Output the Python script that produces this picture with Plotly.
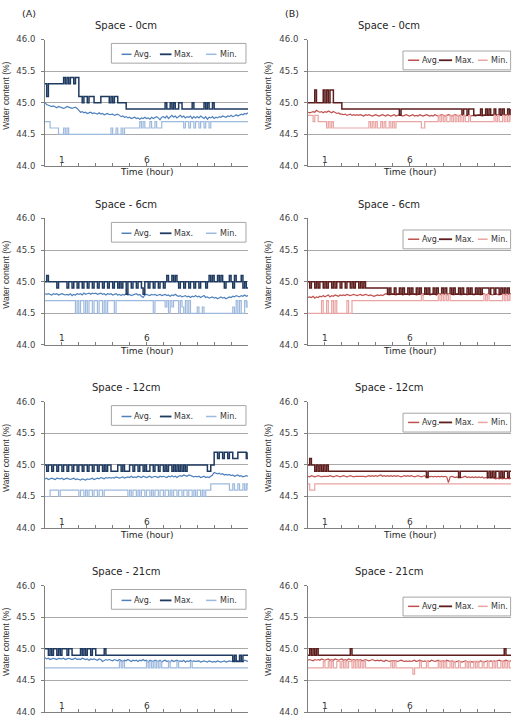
import plotly.graph_objects as go

# ---------------- data ----------------
TIME_H = [round(i * 0.1, 1) for i in range(121)]          # sample times, hours
X_TICK_VALS = list(range(13))
X_TICK_TEXT = ["", "1", "", "", "", "", "6", "", "", "", "", "", ""]
Y_TICK_VALS = [44.0, 44.5, 45.0, 45.5, 46.0]
PANEL_TITLES = ["Space - 0cm", "Space - 6cm", "Space - 12cm", "Space - 21cm"]
SERIES_NAMES = ["Avg.", "Max.", "Min."]
GROUP_LABELS = ["(A)", "(B)"]

# ---- Group A ----
A0_AVG = [
    45.00, 44.97, 44.96, 44.95, 44.94, 44.95, 44.93, 44.92, 44.94, 44.93,
    44.93, 44.91, 44.92, 44.94, 44.93, 44.92, 44.91, 44.92, 44.93, 44.91,
    44.87, 44.85, 44.86, 44.84, 44.85, 44.83, 44.84, 44.85, 44.83, 44.84,
    44.83, 44.82, 44.84, 44.82, 44.83, 44.81, 44.82, 44.83, 44.81, 44.82,
    44.82, 44.80, 44.81, 44.82, 44.80, 44.78, 44.79, 44.77, 44.78, 44.76,
    44.77, 44.75, 44.76, 44.77, 44.75, 44.76, 44.74, 44.76, 44.75, 44.77,
    44.75, 44.76, 44.74, 44.77, 44.75, 44.76, 44.78, 44.76, 44.73, 44.77,
    44.78, 44.76, 44.79, 44.75, 44.78, 44.80, 44.77, 44.79, 44.76, 44.78,
    44.80, 44.77, 44.79, 44.76, 44.78, 44.77, 44.79, 44.75, 44.78, 44.76,
    44.78, 44.76, 44.79, 44.77, 44.75, 44.78, 44.74, 44.77, 44.76, 44.78,
    44.75, 44.77, 44.76, 44.78, 44.77, 44.79, 44.78, 44.77, 44.79, 44.78,
    44.80, 44.78, 44.79, 44.81, 44.79, 44.80, 44.82, 44.81, 44.83, 44.82,
    44.84]
A0_MAX = [
    45.3, 45.1, 45.3, 45.3, 45.3, 45.3, 45.3, 45.3, 45.3, 45.3,
    45.3, 45.4, 45.3, 45.4, 45.3, 45.4, 45.4, 45.3, 45.4, 45.4,
    45.1, 45.1, 45.0, 45.1, 45.1, 45.0, 45.1, 45.1, 45.1, 45.0,
    45.0, 45.0, 45.0, 45.1, 45.1, 45.1, 45.1, 45.1, 45.0, 45.1,
    45.0, 45.1, 45.1, 45.0, 45.0, 45.0, 45.0, 45.0, 44.9, 44.9,
    44.9, 44.9, 44.9, 44.9, 44.9, 44.9, 44.9, 44.9, 44.9, 44.9,
    44.9, 44.9, 44.9, 44.9, 44.9, 44.9, 44.9, 44.9, 44.9, 44.9,
    44.9, 45.0, 44.9, 44.9, 45.0, 44.9, 45.0, 44.9, 44.9, 45.0,
    45.0, 44.9, 44.9, 44.9, 44.9, 44.9, 44.9, 45.0, 44.9, 44.9,
    44.9, 44.9, 44.9, 44.9, 45.0, 44.9, 45.0, 44.9, 44.9, 45.0,
    44.9, 44.9, 44.9, 44.9, 44.9, 44.9, 44.9, 44.9, 44.9, 44.9,
    44.9, 44.9, 44.9, 44.9, 44.9, 44.9, 44.9, 44.9, 44.9, 44.9,
    44.9]
A0_MIN = [
    44.7, 44.7, 44.7, 44.6, 44.6, 44.6, 44.6, 44.6, 44.5, 44.5,
    44.5, 44.6, 44.5, 44.6, 44.5, 44.5, 44.5, 44.5, 44.5, 44.5,
    44.5, 44.5, 44.5, 44.5, 44.5, 44.5, 44.5, 44.5, 44.5, 44.5,
    44.5, 44.5, 44.5, 44.5, 44.5, 44.5, 44.5, 44.5, 44.5, 44.6,
    44.5, 44.5, 44.6, 44.5, 44.5, 44.6, 44.5, 44.6, 44.6, 44.6,
    44.6, 44.6, 44.6, 44.6, 44.6, 44.6, 44.7, 44.6, 44.7, 44.6,
    44.6, 44.6, 44.7, 44.6, 44.6, 44.7, 44.6, 44.6, 44.6, 44.7,
    44.7, 44.7, 44.7, 44.7, 44.7, 44.7, 44.7, 44.7, 44.7, 44.7,
    44.7, 44.7, 44.6, 44.7, 44.7, 44.6, 44.7, 44.7, 44.6, 44.7,
    44.7, 44.6, 44.7, 44.7, 44.6, 44.7, 44.7, 44.6, 44.7, 44.7,
    44.7, 44.7, 44.7, 44.7, 44.7, 44.7, 44.7, 44.7, 44.7, 44.7,
    44.7, 44.7, 44.7, 44.7, 44.7, 44.7, 44.7, 44.7, 44.7, 44.7,
    44.7]

A6_AVG = [
    44.81, 44.80, 44.81, 44.80, 44.79, 44.81, 44.80, 44.81, 44.79, 44.80,
    44.81, 44.80, 44.79, 44.80, 44.79, 44.81, 44.78, 44.80, 44.79, 44.81,
    44.80, 44.81, 44.79, 44.82, 44.80, 44.81, 44.82, 44.80, 44.82, 44.81,
    44.82, 44.80, 44.81, 44.82, 44.80, 44.81, 44.79, 44.81, 44.80, 44.81,
    44.79, 44.80, 44.81, 44.79, 44.80, 44.78, 44.80, 44.79, 44.81, 44.79,
    44.80, 44.78, 44.79, 44.80, 44.81, 44.79, 44.80, 44.77, 44.75, 44.79,
    44.80, 44.79, 44.78, 44.80, 44.79, 44.80, 44.78, 44.79, 44.80, 44.78,
    44.79, 44.80, 44.78, 44.79, 44.77, 44.79, 44.78, 44.80, 44.78, 44.77,
    44.78, 44.76, 44.77, 44.78, 44.76, 44.77, 44.75, 44.77, 44.76, 44.78,
    44.76, 44.77, 44.75, 44.76, 44.78, 44.75, 44.76, 44.74, 44.75, 44.76,
    44.74, 44.75, 44.73, 44.74, 44.76, 44.74, 44.75, 44.73, 44.75, 44.76,
    44.75, 44.77, 44.76, 44.78, 44.77, 44.76, 44.78, 44.77, 44.79, 44.77,
    44.78]
A6_MAX = [
    45.0, 45.1, 45.0, 45.0, 45.0, 45.0, 45.0, 44.9, 45.0, 45.0,
    45.0, 45.0, 45.0, 44.9, 45.0, 45.0, 44.9, 45.0, 45.0, 44.9,
    45.0, 45.0, 44.9, 45.0, 45.0, 44.9, 45.0, 45.0, 44.9, 45.0,
    45.0, 44.9, 45.0, 45.0, 44.9, 45.0, 45.0, 44.9, 45.0, 45.0,
    44.9, 45.0, 45.0, 44.9, 45.0, 44.9, 45.0, 45.0, 44.8, 45.0,
    45.0, 44.9, 45.0, 45.0, 44.9, 45.0, 45.0, 44.9, 44.8, 45.0,
    45.0, 44.9, 45.0, 45.0, 44.9, 45.0, 45.0, 44.9, 45.0, 45.0,
    44.9, 45.0, 45.1, 45.0, 45.0, 45.1, 45.0, 45.1, 45.0, 44.9,
    45.0, 45.0, 44.9, 45.0, 45.0, 44.9, 45.0, 45.0, 44.9, 45.0,
    45.0, 44.9, 45.0, 45.0, 45.0, 44.9, 45.0, 45.1, 45.0, 45.1,
    45.0, 45.0, 45.1, 45.0, 45.1, 45.0, 44.9, 45.0, 45.0, 45.1,
    45.0, 44.9, 45.1, 45.0, 45.0, 45.0, 45.1, 44.9, 45.0, 44.9,
    44.9]
A6_MIN = [
    44.7, 44.7, 44.7, 44.7, 44.7, 44.7, 44.7, 44.7, 44.7, 44.7,
    44.7, 44.7, 44.7, 44.7, 44.7, 44.7, 44.7, 44.7, 44.5, 44.7,
    44.5, 44.7, 44.7, 44.5, 44.7, 44.5, 44.7, 44.7, 44.5, 44.7,
    44.7, 44.5, 44.7, 44.7, 44.5, 44.7, 44.5, 44.7, 44.7, 44.7,
    44.7, 44.5, 44.7, 44.7, 44.7, 44.7, 44.7, 44.7, 44.7, 44.7,
    44.7, 44.7, 44.7, 44.7, 44.7, 44.7, 44.7, 44.7, 44.7, 44.7,
    44.7, 44.7, 44.7, 44.7, 44.5, 44.7, 44.7, 44.7, 44.7, 44.7,
    44.7, 44.6, 44.7, 44.5, 44.7, 44.6, 44.7, 44.7, 44.7, 44.5,
    44.7, 44.6, 44.5, 44.7, 44.5, 44.7, 44.5, 44.5, 44.5, 44.5,
    44.6, 44.5, 44.5, 44.6, 44.5, 44.5, 44.5, 44.5, 44.5, 44.5,
    44.5, 44.5, 44.5, 44.5, 44.5, 44.5, 44.5, 44.5, 44.5, 44.5,
    44.5, 44.6, 44.5, 44.7, 44.5, 44.7, 44.5, 44.5, 44.7, 44.6,
    44.7]

A12_AVG = [
    44.78, 44.79, 44.77, 44.78, 44.79, 44.78, 44.77, 44.79, 44.78, 44.78,
    44.79, 44.77, 44.78, 44.79, 44.78, 44.77, 44.78, 44.79, 44.77, 44.78,
    44.77, 44.76, 44.78, 44.77, 44.76, 44.78, 44.77, 44.78, 44.79, 44.77,
    44.78, 44.79, 44.78, 44.80, 44.79, 44.78, 44.80, 44.79, 44.80, 44.79,
    44.80, 44.79, 44.81, 44.80, 44.79, 44.80, 44.81, 44.79, 44.80, 44.81,
    44.80, 44.82, 44.80, 44.81, 44.80, 44.82, 44.81, 44.80, 44.82, 44.81,
    44.80, 44.81, 44.82, 44.80, 44.81, 44.82, 44.81, 44.80, 44.82, 44.81,
    44.82, 44.81, 44.80, 44.82, 44.81, 44.83, 44.81, 44.82, 44.80, 44.82,
    44.83, 44.82, 44.84, 44.83, 44.82, 44.84, 44.83, 44.82, 44.81, 44.82,
    44.81, 44.82, 44.80, 44.81, 44.82, 44.80, 44.81, 44.80, 44.82, 44.84,
    44.88, 44.87, 44.86, 44.87, 44.85, 44.86, 44.84, 44.85, 44.84, 44.85,
    44.83, 44.84, 44.82, 44.83, 44.84, 44.82, 44.83, 44.81, 44.82, 44.83,
    44.82]
A12_MAX = [
    45.0, 44.9, 45.0, 45.0, 44.9, 45.0, 45.0, 44.9, 45.0, 45.0,
    44.9, 45.0, 45.0, 44.9, 45.0, 45.0, 44.9, 45.0, 45.0, 44.9,
    45.0, 45.0, 44.9, 45.0, 45.0, 44.9, 45.0, 45.0, 44.9, 45.0,
    45.0, 44.9, 45.0, 45.0, 44.9, 45.0, 44.9, 45.0, 45.0, 44.9,
    44.9, 44.9, 44.9, 45.0, 45.0, 44.9, 45.0, 44.9, 44.9, 44.9,
    45.0, 45.0, 44.9, 45.0, 45.0, 44.9, 45.0, 45.0, 44.9, 45.0,
    44.9, 44.9, 45.0, 45.0, 44.9, 45.0, 45.0, 44.9, 45.0, 45.0,
    44.9, 45.0, 44.9, 45.0, 45.0, 44.9, 45.0, 44.9, 45.0, 44.9,
    45.0, 44.9, 45.0, 44.9, 45.0, 45.0, 45.0, 45.0, 45.0, 45.0,
    45.0, 45.0, 45.0, 45.0, 45.0, 45.0, 44.9, 44.9, 45.0, 45.0,
    45.2, 45.2, 45.1, 45.2, 45.2, 45.1, 45.2, 45.2, 45.1, 45.2,
    45.2, 45.1, 45.1, 45.1, 45.2, 45.2, 45.2, 45.2, 45.2, 45.1,
    45.2]
A12_MIN = [
    44.5, 44.5, 44.5, 44.6, 44.6, 44.6, 44.6, 44.6, 44.5, 44.6,
    44.6, 44.6, 44.6, 44.6, 44.6, 44.6, 44.6, 44.6, 44.6, 44.6,
    44.5, 44.6, 44.6, 44.5, 44.6, 44.5, 44.6, 44.6, 44.5, 44.6,
    44.6, 44.5, 44.6, 44.6, 44.5, 44.6, 44.6, 44.6, 44.6, 44.6,
    44.6, 44.6, 44.6, 44.6, 44.6, 44.6, 44.6, 44.6, 44.6, 44.5,
    44.6, 44.5, 44.6, 44.6, 44.5, 44.6, 44.5, 44.6, 44.6, 44.5,
    44.6, 44.6, 44.5, 44.6, 44.5, 44.6, 44.6, 44.5, 44.6, 44.6,
    44.5, 44.6, 44.6, 44.5, 44.6, 44.5, 44.6, 44.6, 44.5, 44.6,
    44.6, 44.5, 44.6, 44.6, 44.5, 44.6, 44.6, 44.5, 44.6, 44.5,
    44.6, 44.6, 44.5, 44.6, 44.5, 44.6, 44.6, 44.6, 44.7, 44.7,
    44.7, 44.7, 44.7, 44.7, 44.7, 44.7, 44.7, 44.7, 44.7, 44.6,
    44.6, 44.7, 44.6, 44.6, 44.7, 44.6, 44.6, 44.7, 44.6, 44.7,
    44.6]

A21_AVG = [
    44.86, 44.84, 44.85, 44.83, 44.84, 44.85, 44.84, 44.83, 44.85, 44.84,
    44.84, 44.85, 44.83, 44.84, 44.85, 44.84, 44.83, 44.84, 44.85, 44.83,
    44.84, 44.83, 44.85, 44.84, 44.83, 44.84, 44.82, 44.84, 44.83, 44.84,
    44.83, 44.82, 44.84, 44.83, 44.80, 44.82, 44.83, 44.82, 44.83, 44.82,
    44.81, 44.83, 44.82, 44.81, 44.83, 44.82, 44.80, 44.82, 44.81, 44.83,
    44.82, 44.80, 44.82, 44.81, 44.82, 44.80, 44.82, 44.81, 44.83, 44.81,
    44.82, 44.79, 44.82, 44.81, 44.80, 44.82, 44.81, 44.80, 44.82, 44.79,
    44.81, 44.82, 44.80, 44.81, 44.79, 44.82, 44.80, 44.81, 44.82, 44.80,
    44.81, 44.80, 44.82, 44.79, 44.81, 44.80, 44.82, 44.80, 44.81, 44.80,
    44.80, 44.81, 44.79, 44.80, 44.81, 44.80, 44.79, 44.81, 44.80, 44.79,
    44.80, 44.79, 44.81, 44.80, 44.79, 44.80, 44.81, 44.79, 44.80, 44.81,
    44.80, 44.81, 44.80, 44.82, 44.81, 44.80, 44.81, 44.80, 44.82, 44.81,
    44.80]
A21_MAX = [
    45.0, 45.0, 44.9, 45.0, 44.9, 45.0, 45.0, 44.9, 45.0, 44.9,
    45.0, 45.0, 45.0, 44.9, 45.0, 45.0, 44.9, 44.9, 44.9, 44.9,
    44.9, 45.0, 44.9, 45.0, 44.9, 45.0, 45.0, 44.9, 45.0, 45.0,
    44.9, 44.9, 44.9, 44.9, 44.9, 45.0, 44.9, 44.9, 44.9, 44.9,
    44.9, 44.9, 44.9, 44.9, 44.9, 44.9, 44.9, 44.9, 44.9, 44.9,
    44.9, 44.9, 44.9, 44.9, 44.9, 44.9, 44.9, 44.9, 44.9, 44.9,
    44.9, 44.9, 44.9, 44.9, 44.9, 44.9, 44.9, 44.9, 44.9, 44.9,
    44.9, 44.9, 44.9, 44.9, 44.9, 44.9, 44.9, 44.9, 44.9, 44.9,
    44.9, 44.9, 44.9, 44.9, 44.9, 44.9, 44.9, 44.9, 44.9, 44.9,
    44.9, 44.9, 44.9, 44.9, 44.9, 44.9, 44.9, 44.9, 44.9, 44.9,
    44.9, 44.9, 44.9, 44.9, 44.9, 44.9, 44.9, 44.9, 44.9, 44.9,
    44.9, 44.8, 44.9, 44.8, 44.8, 44.9, 44.8, 44.9, 44.9, 44.9,
    44.9]
A21_MIN = [
    44.7, 44.7, 44.7, 44.7, 44.7, 44.7, 44.7, 44.7, 44.7, 44.7,
    44.7, 44.7, 44.7, 44.7, 44.7, 44.7, 44.7, 44.7, 44.7, 44.7,
    44.7, 44.7, 44.7, 44.7, 44.7, 44.7, 44.7, 44.7, 44.7, 44.7,
    44.7, 44.7, 44.7, 44.7, 44.7, 44.7, 44.7, 44.7, 44.7, 44.7,
    44.7, 44.7, 44.7, 44.7, 44.8, 44.7, 44.8, 44.7, 44.7, 44.7,
    44.7, 44.7, 44.7, 44.7, 44.7, 44.7, 44.7, 44.7, 44.7, 44.7,
    44.8, 44.7, 44.8, 44.7, 44.8, 44.7, 44.8, 44.7, 44.8, 44.7,
    44.7, 44.7, 44.7, 44.8, 44.7, 44.7, 44.7, 44.7, 44.8, 44.7,
    44.7, 44.7, 44.7, 44.7, 44.7, 44.7, 44.8, 44.7, 44.7, 44.7,
    44.7, 44.7, 44.7, 44.7, 44.7, 44.7, 44.7, 44.7, 44.7, 44.7,
    44.7, 44.7, 44.7, 44.7, 44.7, 44.7, 44.7, 44.7, 44.7, 44.7,
    44.7, 44.7, 44.7, 44.7, 44.7, 44.7, 44.7, 44.7, 44.7, 44.7,
    44.7]

# ---- Group B ----
B0_AVG = [
    44.85, 44.84, 44.85, 44.86, 44.85, 44.88, 44.86, 44.85, 44.86, 44.84,
    44.86, 44.85, 44.87, 44.85, 44.84, 44.86, 44.84, 44.83, 44.84, 44.82,
    44.82, 44.81, 44.82, 44.80, 44.81, 44.82, 44.80, 44.81, 44.80, 44.81,
    44.80, 44.81, 44.80, 44.79, 44.81, 44.80, 44.81, 44.80, 44.79, 44.80,
    44.81, 44.80, 44.79, 44.80, 44.81, 44.80, 44.79, 44.81, 44.80, 44.79,
    44.80, 44.81, 44.79, 44.80, 44.81, 44.80, 44.79, 44.80, 44.81, 44.80,
    44.79, 44.80, 44.81, 44.79, 44.80, 44.79, 44.81, 44.80, 44.79, 44.80,
    44.81, 44.80, 44.79, 44.80, 44.79, 44.81, 44.80, 44.79, 44.80, 44.81,
    44.80, 44.79, 44.80, 44.81, 44.80, 44.79, 44.80, 44.81, 44.80, 44.79,
    44.80, 44.81, 44.80, 44.79, 44.80, 44.81, 44.79, 44.80, 44.80, 44.79,
    44.80, 44.81, 44.80, 44.79, 44.80, 44.81, 44.80, 44.81, 44.80, 44.81,
    44.80, 44.81, 44.80, 44.81, 44.82, 44.80, 44.81, 44.80, 44.81, 44.80,
    44.81]
B0_MAX = [
    45.0, 45.0, 45.0, 45.0, 45.2, 45.0, 45.0, 45.0, 45.0, 45.2,
    45.0, 45.2, 45.0, 45.2, 45.2, 45.0, 45.0, 45.0, 45.0, 45.0,
    44.9, 44.9, 44.9, 44.9, 44.9, 44.9, 44.9, 44.9, 44.9, 44.9,
    44.9, 44.9, 44.9, 44.9, 44.9, 44.9, 44.9, 44.9, 44.9, 44.9,
    44.9, 44.9, 44.9, 44.9, 44.9, 44.9, 44.9, 44.9, 44.9, 44.9,
    44.9, 44.9, 44.9, 44.9, 44.8, 44.9, 44.9, 44.9, 44.9, 44.9,
    44.9, 44.9, 44.9, 44.9, 44.9, 44.9, 44.9, 44.9, 44.9, 44.9,
    44.9, 44.9, 44.9, 44.9, 44.9, 44.9, 44.9, 44.9, 44.9, 44.9,
    44.9, 44.9, 44.9, 44.9, 44.9, 44.9, 44.9, 44.9, 44.9, 44.9,
    44.9, 44.8, 44.9, 44.9, 44.8, 44.9, 44.9, 44.9, 44.8, 44.8,
    44.8, 44.8, 44.9, 44.8, 44.8, 44.9, 44.8, 44.9, 44.8, 44.8,
    44.9, 44.8, 44.8, 44.9, 44.8, 44.9, 44.8, 44.8, 44.9, 44.8,
    44.9]
B0_MIN = [
    44.8, 44.8, 44.8, 44.7, 44.8, 44.8, 44.7, 44.7, 44.7, 44.7,
    44.7, 44.6, 44.7, 44.6, 44.7, 44.6, 44.6, 44.6, 44.6, 44.6,
    44.6, 44.6, 44.6, 44.6, 44.6, 44.6, 44.6, 44.6, 44.6, 44.6,
    44.6, 44.6, 44.6, 44.6, 44.6, 44.6, 44.7, 44.6, 44.7, 44.6,
    44.7, 44.6, 44.6, 44.7, 44.6, 44.7, 44.6, 44.6, 44.7, 44.6,
    44.7, 44.6, 44.7, 44.7, 44.7, 44.7, 44.7, 44.7, 44.7, 44.7,
    44.7, 44.7, 44.7, 44.7, 44.7, 44.7, 44.7, 44.6, 44.6, 44.7,
    44.7, 44.7, 44.7, 44.7, 44.7, 44.7, 44.7, 44.8, 44.7, 44.8,
    44.7, 44.8, 44.7, 44.7, 44.8, 44.7, 44.8, 44.7, 44.8, 44.7,
    44.8, 44.7, 44.8, 44.7, 44.7, 44.8, 44.7, 44.7, 44.7, 44.7,
    44.7, 44.7, 44.7, 44.7, 44.7, 44.7, 44.7, 44.7, 44.7, 44.7,
    44.8, 44.7, 44.8, 44.7, 44.7, 44.8, 44.7, 44.8, 44.7, 44.8,
    44.7]

B6_AVG = [
    44.75, 44.76, 44.75, 44.77, 44.74, 44.76, 44.75, 44.77, 44.76, 44.78,
    44.76, 44.77, 44.79, 44.76, 44.78, 44.77, 44.79, 44.78, 44.77, 44.79,
    44.78, 44.79, 44.78, 44.80, 44.79, 44.78, 44.79, 44.80, 44.79, 44.78,
    44.79, 44.80, 44.78, 44.79, 44.80, 44.79, 44.78, 44.79, 44.78, 44.77,
    44.78, 44.79, 44.78, 44.79, 44.78, 44.79, 44.81, 44.80, 44.79, 44.80,
    44.81, 44.80, 44.79, 44.81, 44.80, 44.81, 44.79, 44.80, 44.81, 44.80,
    44.79, 44.81, 44.80, 44.81, 44.79, 44.80, 44.81, 44.80, 44.79, 44.81,
    44.80, 44.81, 44.79, 44.80, 44.81, 44.80, 44.79, 44.81, 44.80, 44.79,
    44.81, 44.80, 44.79, 44.80, 44.81, 44.80, 44.79, 44.80, 44.81, 44.80,
    44.80, 44.79, 44.81, 44.80, 44.79, 44.80, 44.81, 44.80, 44.79, 44.80,
    44.81, 44.80, 44.79, 44.80, 44.81, 44.79, 44.80, 44.81, 44.80, 44.79,
    44.80, 44.81, 44.80, 44.79, 44.80, 44.81, 44.80, 44.79, 44.80, 44.81,
    44.80]
B6_MAX = [
    45.0, 44.9, 45.0, 45.0, 44.9, 45.0, 44.9, 45.0, 45.0, 44.9,
    45.0, 44.9, 45.0, 45.0, 44.9, 45.0, 44.9, 45.0, 45.0, 44.9,
    45.0, 45.0, 44.9, 45.0, 45.0, 44.9, 45.0, 44.9, 45.0, 45.0,
    44.9, 45.0, 44.9, 45.0, 44.9, 44.9, 44.9, 44.9, 44.9, 44.9,
    44.9, 44.9, 44.9, 44.9, 44.9, 44.9, 44.9, 44.8, 44.9, 44.8,
    44.8, 44.9, 44.8, 44.8, 44.9, 44.8, 44.9, 44.8, 44.8, 44.9,
    44.8, 44.9, 44.8, 44.8, 44.9, 44.8, 44.9, 44.8, 44.8, 44.9,
    44.8, 44.9, 44.8, 44.8, 44.9, 44.8, 44.9, 44.8, 44.8, 44.9,
    44.8, 44.9, 44.8, 44.8, 44.9, 44.8, 44.9, 44.8, 44.8, 44.9,
    44.8, 44.9, 44.8, 44.8, 44.9, 44.8, 44.9, 44.8, 44.8, 44.9,
    44.8, 44.9, 44.8, 44.9, 44.9, 44.9, 44.9, 44.8, 44.9, 44.9,
    44.8, 44.9, 44.9, 44.8, 44.9, 44.8, 44.9, 44.8, 44.9, 44.8,
    44.8]
B6_MIN = [
    44.5, 44.5, 44.5, 44.5, 44.5, 44.5, 44.5, 44.5, 44.7, 44.5,
    44.5, 44.7, 44.5, 44.5, 44.7, 44.5, 44.7, 44.5, 44.5, 44.5,
    44.5, 44.5, 44.5, 44.7, 44.5, 44.5, 44.7, 44.7, 44.7, 44.7,
    44.7, 44.7, 44.7, 44.7, 44.7, 44.7, 44.7, 44.7, 44.7, 44.7,
    44.7, 44.7, 44.7, 44.7, 44.7, 44.7, 44.7, 44.7, 44.7, 44.7,
    44.7, 44.7, 44.7, 44.7, 44.7, 44.7, 44.7, 44.7, 44.7, 44.7,
    44.7, 44.7, 44.7, 44.7, 44.7, 44.7, 44.7, 44.8, 44.7, 44.7,
    44.7, 44.7, 44.7, 44.7, 44.7, 44.7, 44.7, 44.8, 44.7, 44.8,
    44.7, 44.8, 44.7, 44.8, 44.7, 44.7, 44.7, 44.7, 44.7, 44.7,
    44.7, 44.7, 44.7, 44.7, 44.7, 44.7, 44.7, 44.7, 44.7, 44.7,
    44.7, 44.7, 44.7, 44.7, 44.8, 44.7, 44.8, 44.7, 44.7, 44.7,
    44.7, 44.7, 44.7, 44.7, 44.7, 44.8, 44.7, 44.8, 44.7, 44.8,
    44.7]

B12_AVG = [
    44.82, 44.81, 44.83, 44.82, 44.81, 44.82, 44.83, 44.82, 44.81, 44.82,
    44.82, 44.81, 44.82, 44.83, 44.82, 44.81, 44.82, 44.83, 44.82, 44.81,
    44.82, 44.83, 44.82, 44.81, 44.82, 44.83, 44.82, 44.81, 44.82, 44.82,
    44.82, 44.83, 44.82, 44.82, 44.81, 44.82, 44.83, 44.82, 44.83, 44.82,
    44.83, 44.82, 44.83, 44.84, 44.82, 44.83, 44.82, 44.83, 44.82, 44.83,
    44.82, 44.83, 44.82, 44.83, 44.82, 44.81, 44.82, 44.83, 44.82, 44.83,
    44.82, 44.83, 44.82, 44.81, 44.82, 44.83, 44.82, 44.81, 44.82, 44.83,
    44.80, 44.82, 44.81, 44.82, 44.81, 44.82, 44.81, 44.82, 44.81, 44.82,
    44.81, 44.82, 44.81, 44.72, 44.81, 44.82, 44.81, 44.80, 44.81, 44.80,
    44.81, 44.80, 44.81, 44.82, 44.80, 44.81, 44.80, 44.81, 44.80, 44.81,
    44.80, 44.81, 44.80, 44.81, 44.79, 44.80, 44.79, 44.80, 44.79, 44.80,
    44.79, 44.78, 44.79, 44.78, 44.79, 44.78, 44.79, 44.78, 44.79, 44.78,
    44.79]
B12_MAX = [
    45.0, 45.1, 45.0, 45.0, 44.9, 45.0, 44.9, 45.0, 44.9, 45.0,
    44.9, 45.0, 44.9, 44.9, 44.9, 44.9, 44.9, 44.9, 44.9, 44.9,
    44.9, 44.9, 44.9, 44.9, 44.9, 44.9, 44.9, 44.9, 44.9, 44.9,
    44.9, 44.9, 44.9, 44.9, 44.9, 44.9, 44.9, 44.9, 44.9, 44.9,
    44.9, 44.9, 44.9, 44.9, 44.9, 44.9, 44.9, 44.9, 44.9, 44.9,
    44.9, 44.9, 44.9, 44.9, 44.9, 44.9, 44.9, 44.9, 44.9, 44.9,
    44.9, 44.9, 44.9, 44.9, 44.9, 44.9, 44.9, 44.9, 44.9, 44.9,
    44.8, 44.9, 44.9, 44.9, 44.9, 44.9, 44.9, 44.9, 44.9, 44.9,
    44.9, 44.9, 44.9, 44.9, 44.9, 44.9, 44.9, 44.9, 44.9, 44.8,
    44.9, 44.9, 44.9, 44.9, 44.9, 44.9, 44.9, 44.9, 44.9, 44.9,
    44.9, 44.9, 44.9, 44.9, 44.9, 44.9, 44.8, 44.9, 44.8, 44.9,
    44.8, 44.9, 44.9, 44.8, 44.9, 44.8, 44.9, 44.9, 44.8, 44.9,
    44.9]
B12_MIN = [
    44.7, 44.6, 44.6, 44.6, 44.7, 44.7, 44.7, 44.7, 44.7, 44.7,
    44.7, 44.7, 44.7, 44.7, 44.7, 44.7, 44.7, 44.7, 44.7, 44.7,
    44.7, 44.7, 44.7, 44.7, 44.7, 44.7, 44.7, 44.7, 44.7, 44.7,
    44.7, 44.7, 44.7, 44.7, 44.7, 44.7, 44.7, 44.7, 44.7, 44.7,
    44.7, 44.7, 44.7, 44.7, 44.7, 44.7, 44.7, 44.7, 44.7, 44.7,
    44.7, 44.7, 44.7, 44.7, 44.7, 44.7, 44.7, 44.7, 44.7, 44.7,
    44.7, 44.7, 44.7, 44.7, 44.7, 44.7, 44.7, 44.7, 44.7, 44.7,
    44.7, 44.7, 44.7, 44.7, 44.7, 44.7, 44.7, 44.7, 44.7, 44.7,
    44.7, 44.7, 44.7, 44.7, 44.7, 44.7, 44.7, 44.7, 44.7, 44.7,
    44.7, 44.7, 44.7, 44.7, 44.7, 44.7, 44.7, 44.7, 44.7, 44.7,
    44.7, 44.7, 44.7, 44.7, 44.7, 44.7, 44.7, 44.7, 44.7, 44.7,
    44.7, 44.7, 44.7, 44.7, 44.7, 44.7, 44.7, 44.7, 44.7, 44.7,
    44.7]

B21_AVG = [
    44.82, 44.83, 44.82, 44.81, 44.83, 44.82, 44.83, 44.82, 44.84, 44.83,
    44.82, 44.83, 44.84, 44.82, 44.83, 44.82, 44.84, 44.83, 44.82, 44.83,
    44.84, 44.82, 44.83, 44.82, 44.84, 44.83, 44.82, 44.83, 44.82, 44.83,
    44.82, 44.83, 44.81, 44.82, 44.83, 44.82, 44.81, 44.82, 44.83, 44.82,
    44.81, 44.82, 44.81, 44.82, 44.81, 44.80, 44.82, 44.81, 44.80, 44.81,
    44.81, 44.82, 44.81, 44.80, 44.81, 44.82, 44.81, 44.80, 44.81, 44.80,
    44.81, 44.80, 44.81, 44.82, 44.80, 44.81, 44.82, 44.81, 44.80, 44.81,
    44.80, 44.81, 44.80, 44.82, 44.81, 44.80, 44.81, 44.82, 44.80, 44.81,
    44.81, 44.80, 44.82, 44.81, 44.80, 44.81, 44.80, 44.79, 44.80, 44.81,
    44.80, 44.79, 44.80, 44.81, 44.80, 44.79, 44.80, 44.79, 44.80, 44.79,
    44.80, 44.79, 44.81, 44.80, 44.79, 44.80, 44.81, 44.80, 44.81, 44.80,
    44.81, 44.80, 44.81, 44.82, 44.81, 44.80, 44.81, 44.82, 44.81, 44.80,
    44.81]
B21_MAX = [
    44.9, 45.0, 44.9, 45.0, 44.9, 45.0, 44.9, 44.9, 44.9, 44.9,
    44.9, 44.9, 44.9, 44.9, 44.9, 44.9, 44.9, 44.9, 44.9, 44.9,
    44.9, 44.9, 44.9, 44.9, 44.9, 45.0, 44.9, 44.9, 44.9, 44.9,
    44.9, 44.9, 44.9, 44.9, 44.9, 44.9, 44.9, 44.9, 44.9, 44.9,
    44.9, 44.9, 44.9, 44.9, 44.9, 44.9, 44.9, 44.9, 44.9, 44.9,
    44.9, 44.9, 44.9, 44.9, 44.9, 44.9, 44.9, 44.9, 44.9, 44.9,
    44.9, 44.9, 44.9, 44.9, 44.9, 44.9, 44.9, 44.9, 44.9, 44.9,
    44.9, 44.9, 44.9, 44.9, 44.9, 44.9, 44.9, 44.9, 44.9, 44.9,
    44.9, 44.9, 44.9, 44.9, 44.9, 44.9, 44.9, 44.9, 44.9, 44.9,
    44.9, 44.9, 44.9, 44.9, 44.9, 44.9, 44.9, 44.9, 44.9, 44.9,
    44.9, 44.9, 44.9, 44.9, 44.9, 44.9, 44.9, 44.9, 44.9, 44.9,
    44.9, 44.9, 44.9, 44.9, 44.9, 44.9, 45.0, 44.9, 44.9, 44.9,
    44.9]
B21_MIN = [
    44.7, 44.7, 44.7, 44.7, 44.7, 44.7, 44.7, 44.7, 44.7, 44.8,
    44.7, 44.7, 44.8, 44.7, 44.8, 44.7, 44.7, 44.8, 44.8, 44.7,
    44.8, 44.7, 44.8, 44.7, 44.8, 44.8, 44.7, 44.8, 44.7, 44.8,
    44.7, 44.8, 44.7, 44.8, 44.7, 44.7, 44.7, 44.7, 44.7, 44.7,
    44.7, 44.7, 44.7, 44.7, 44.7, 44.7, 44.7, 44.7, 44.7, 44.8,
    44.7, 44.8, 44.7, 44.7, 44.7, 44.7, 44.7, 44.7, 44.7, 44.7,
    44.7, 44.7, 44.6, 44.7, 44.7, 44.7, 44.8, 44.7, 44.7, 44.7,
    44.8, 44.7, 44.7, 44.7, 44.7, 44.7, 44.7, 44.8, 44.7, 44.8,
    44.7, 44.8, 44.7, 44.7, 44.8, 44.7, 44.8, 44.7, 44.7, 44.8,
    44.7, 44.7, 44.7, 44.8, 44.7, 44.8, 44.7, 44.7, 44.8, 44.7,
    44.8, 44.7, 44.7, 44.8, 44.7, 44.7, 44.8, 44.7, 44.7, 44.8,
    44.7, 44.8, 44.7, 44.7, 44.8, 44.7, 44.8, 44.7, 44.8, 44.7,
    44.7]

GROUP_A = [(A0_AVG, A0_MAX, A0_MIN), (A6_AVG, A6_MAX, A6_MIN),
           (A12_AVG, A12_MAX, A12_MIN), (A21_AVG, A21_MAX, A21_MIN)]
GROUP_B = [(B0_AVG, B0_MAX, B0_MIN), (B6_AVG, B6_MAX, B6_MIN),
           (B12_AVG, B12_MAX, B12_MIN), (B21_AVG, B21_MAX, B21_MIN)]

# ---------------- styling / layout ----------------
W, H = 516, 719
FONT = "DejaVu Sans"
COLORS = [["#4F81BD", "#1F3A60", "#9DB9DD"],
          ["#C0504D", "#5E1E1E", "#E9A5A3"]]
WIDTHS = [1.2, 1.5, 1.2]
LSHAPE = ["linear", "hv", "hv"]
GRID = "#A9A9A9"

COL_X_PX = [(45, 248), (308, 511)]
ROW_TOP_PX = [35, 216.5, 402.3, 588.8]
PLOT_H_PX = 128.2
TITLE_X_PX = [126, 389]
YTITLE_X_PX = [6, 268]

# legend geometry in axis-domain fractions (per column)
LEG = [
    dict(box=(0.327, 0.990, 0.813, 0.969), y=0.883,
         items=[(0.377, 0.426, 0.431), (0.566, 0.623, 0.625), (0.793, 0.845, 0.853)]),
    dict(box=(0.468, 0.998, 0.760, 0.909), y=0.836,
         items=[(0.493, 0.548, 0.553), (0.645, 0.710, 0.715), (0.837, 0.885, 0.893)]),
]


def px_y(p):
    return 1 - p / H


def px_x(p):
    return p / W


fig = go.Figure()
layout = dict(width=W, height=H, autosize=False,
              margin=dict(l=0, r=0, t=0, b=0),
              paper_bgcolor="white", plot_bgcolor="white",
              showlegend=False, font=dict(family=FONT, color="#333333"))
shapes = []
annotations = []

for col, group in enumerate([GROUP_A, GROUP_B]):
    for row, series in enumerate(group):
        n = row * 2 + col + 1
        xa = "x" if n == 1 else f"x{n}"
        ya = "y" if n == 1 else f"y{n}"
        top = ROW_TOP_PX[row]
        bot = top + PLOT_H_PX
        x0p, x1p = COL_X_PX[col]
        for k, vals in enumerate(series):
            fig.add_trace(go.Scatter(
                x=TIME_H[:len(vals)], y=vals, mode="lines", name=SERIES_NAMES[k],
                line=dict(color=COLORS[col][k], width=WIDTHS[k], shape=LSHAPE[k]),
                xaxis=xa, yaxis=ya, hoverinfo="skip"))
        xkey = "xaxis" if n == 1 else f"xaxis{n}"
        ykey = "yaxis" if n == 1 else f"yaxis{n}"
        layout[xkey] = dict(
            domain=[px_x(x0p), px_x(x1p)], range=[0, 12], anchor=ya,
            tickvals=X_TICK_VALS, ticks="inside", ticklen=3,
            tickcolor="#7F7F7F", showticklabels=False,
            showline=True, linecolor="#7F7F7F", linewidth=1,
            showgrid=False, zeroline=False, fixedrange=True)
        layout[ykey] = dict(
            domain=[px_y(bot), px_y(top)], range=[44, 46], anchor=xa,
            tickvals=Y_TICK_VALS, tickformat=".1f", ticks="outside", ticklen=3,
            tickcolor="#7F7F7F", ticklabelstandoff=4,
            tickfont=dict(family=FONT, size=8.5, color="#404040"),
            showline=True, linecolor="#7F7F7F", linewidth=1,
            showgrid=True, gridcolor=GRID, gridwidth=1.2,
            zeroline=False, fixedrange=True)
        # x tick labels sitting just above the axis line
        for tv, tt in zip(X_TICK_VALS, X_TICK_TEXT):
            if tt:
                annotations.append(dict(text=tt, x=tv, y=6.5 / PLOT_H_PX, xref=xa,
                                        yref=f"{ya} domain", showarrow=False,
                                        xanchor="center", yanchor="middle",
                                        font=dict(family=FONT, size=9, color="#333333")))
        # panel title
        annotations.append(dict(text=PANEL_TITLES[row], x=px_x(TITLE_X_PX[col]),
                                y=px_y(top - 14), xref="paper", yref="paper",
                                showarrow=False, xanchor="center", yanchor="middle",
                                font=dict(family=FONT, size=10, color="#262626")))
        # y axis title
        annotations.append(dict(text="Water content (%)", x=px_x(YTITLE_X_PX[col]),
                                y=px_y(top + PLOT_H_PX / 2 - 7), xref="paper", yref="paper",
                                showarrow=False, textangle=-90, xanchor="center",
                                yanchor="middle",
                                font=dict(family="Liberation Sans", size=8.5, color="#333333")))
        # x axis title (the bottom row's title falls outside the picture in the reference)
        if row < 3:
            annotations.append(dict(text="Time (hour)", x=px_x((x0p + x1p) / 2),
                                    y=px_y(bot + 6.5), xref="paper", yref="paper",
                                    showarrow=False, xanchor="center", yanchor="middle",
                                    font=dict(family=FONT, size=9, color="#262626")))
        # legend box
        lg = LEG[col]
        bx0, bx1, by0, by1 = lg["box"]
        shapes.append(dict(type="rect", xref=f"{xa} domain", yref=f"{ya} domain",
                           x0=bx0, x1=bx1, y0=by0, y1=by1,
                           line=dict(color="#A6A6A6", width=1), fillcolor="white",
                           layer="above"))
        for k, (lx0, lx1, tx) in enumerate(lg["items"]):
            shapes.append(dict(type="line", xref=f"{xa} domain", yref=f"{ya} domain",
                               x0=lx0, x1=lx1, y0=lg["y"], y1=lg["y"],
                               line=dict(color=COLORS[col][k], width=WIDTHS[k] + 0.3),
                               layer="above"))
            annotations.append(dict(text=SERIES_NAMES[k], x=tx, y=lg["y"],
                                    xref=f"{xa} domain", yref=f"{ya} domain",
                                    showarrow=False, xanchor="left", yanchor="middle",
                                    font=dict(family=FONT, size=8, color="#333333")))

# group labels
annotations.append(dict(text=GROUP_LABELS[0], x=px_x(29), y=px_y(8.5), xref="paper",
                        yref="paper", showarrow=False, xanchor="center", yanchor="middle",
                        font=dict(family=FONT, size=9.5, color="#262626")))
annotations.append(dict(text=GROUP_LABELS[1], x=px_x(292), y=px_y(8.5), xref="paper",
                        yref="paper", showarrow=False, xanchor="center", yanchor="middle",
                        font=dict(family=FONT, size=9.5, color="#262626")))

layout["shapes"] = shapes
layout["annotations"] = annotations
fig.update_layout(**layout)
fig.write_html("out.html")
